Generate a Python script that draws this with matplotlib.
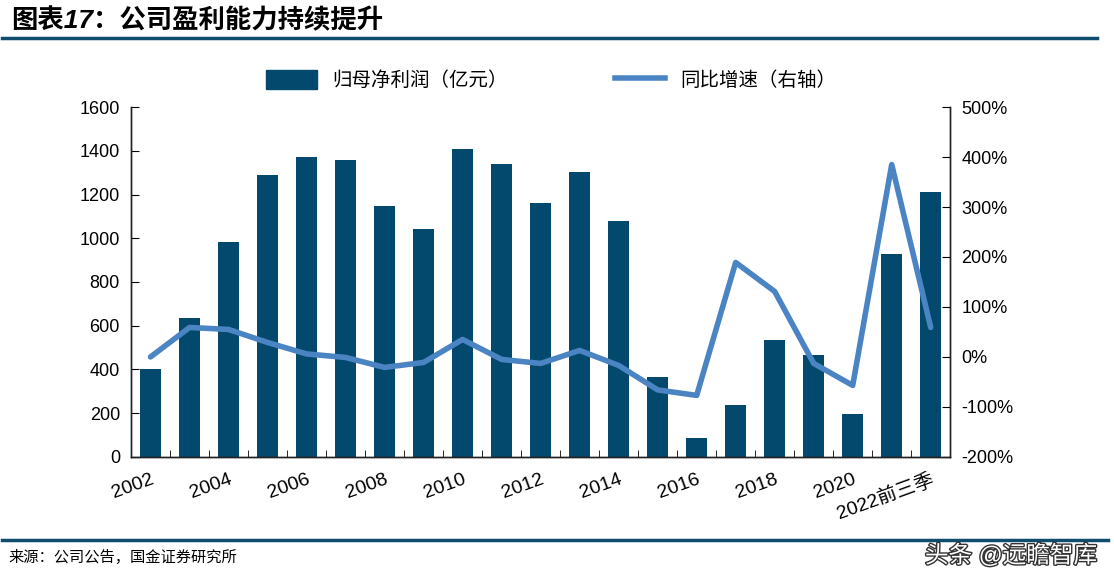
import matplotlib.pyplot as plt
import matplotlib.patheffects as pe
from matplotlib.lines import Line2D
import numpy as np

plt.rcParams['font.family'] = ['Liberation Sans', 'Noto Sans CJK SC', 'DejaVu Sans']

years = ['2002', '2003', '2004', '2005', '2006', '2007', '2008', '2009', '2010', '2011',
         '2012', '2013', '2014', '2015', '2016', '2017', '2018', '2019', '2020', '2021',
         '2022前三季']
profit = [400, 633, 983, 1289, 1372, 1356, 1147, 1041, 1408, 1339,
          1163, 1305, 1081, 366, 87, 237, 536, 464, 198, 930, 1212]
growth = [0, 59, 55, 29, 6, -1, -21, -11, 35, -5,
          -13, 13, -17, -66, -77, 189, 131, -13, -57, 385, 59]

bar_color = '#03496E'
line_color = '#4A84C2'
dark = '#0F4C6E'

fig = plt.figure(figsize=(11.14, 5.82), dpi=100)
ax = fig.add_axes([0.1176, 0.215, 0.7354, 0.601])
ax2 = ax.twinx()

x = np.arange(len(years))
ax.bar(x, profit, width=0.54, color=bar_color, zorder=2)
ax2.plot(x, growth, color=line_color, lw=4, solid_capstyle='round')

ax.set_xlim(-0.5, len(years) - 0.5)
ax.set_ylim(0, 1600)
ax.set_yticks(range(0, 1601, 200))
ax2.set_ylim(-200, 500)
ax2.set_yticks(range(-200, 501, 100))
ax2.set_yticklabels([f'{v}%' for v in range(-200, 501, 100)])

ax.set_xticks(x[::2])
ax.set_xticklabels(years[::2], rotation=20, ha='right', rotation_mode='anchor')
ax.set_xticks(np.arange(-0.5, len(years), 1), minor=True)
ax.tick_params(axis='x', which='major', length=0, labelsize=14, pad=10)
ax.tick_params(axis='x', which='minor', direction='in', length=5)
ax.tick_params(axis='y', direction='in', length=6, labelsize=13, pad=8)
ax2.tick_params(axis='y', direction='in', length=6, labelsize=13, pad=8)

for a in (ax, ax2):
    a.spines['top'].set_visible(False)
    for s in ('left', 'right', 'bottom'):
        a.spines[s].set_color('#222222')
        a.spines[s].set_linewidth(1)

handles = [plt.Rectangle((0, 0), 1, 1, color=bar_color),
           Line2D([0], [0], color=line_color, lw=4)]
fig.legend(handles, ['归母净利润（亿元）', '同比增速（右轴）'], loc='center',
           bbox_to_anchor=(0.495, 0.862), ncol=2, frameon=False, fontsize=14,
           handlelength=2.6, handleheight=1.1, columnspacing=5.5)

fig.text(0.01, 0.965, '图表17：公司盈利能力持续提升', fontsize=19, fontweight='bold',
         va='center', ha='left', style='italic')
fig.add_artist(Line2D([0.002, 0.985], [0.935, 0.935], color=dark, lw=2.5))
fig.add_artist(Line2D([0.002, 0.995], [0.072, 0.072], color=dark, lw=2.5))
fig.text(0.008, 0.042, '来源：公司公告，国金证券研究所', fontsize=11, va='center', ha='left')
fig.text(0.985, 0.045, '头条 @远瞻智库', fontsize=17, va='center', ha='right', color='white',
         path_effects=[pe.withStroke(linewidth=2, foreground='#333333')])

fig.savefig('out.png', dpi=100)
